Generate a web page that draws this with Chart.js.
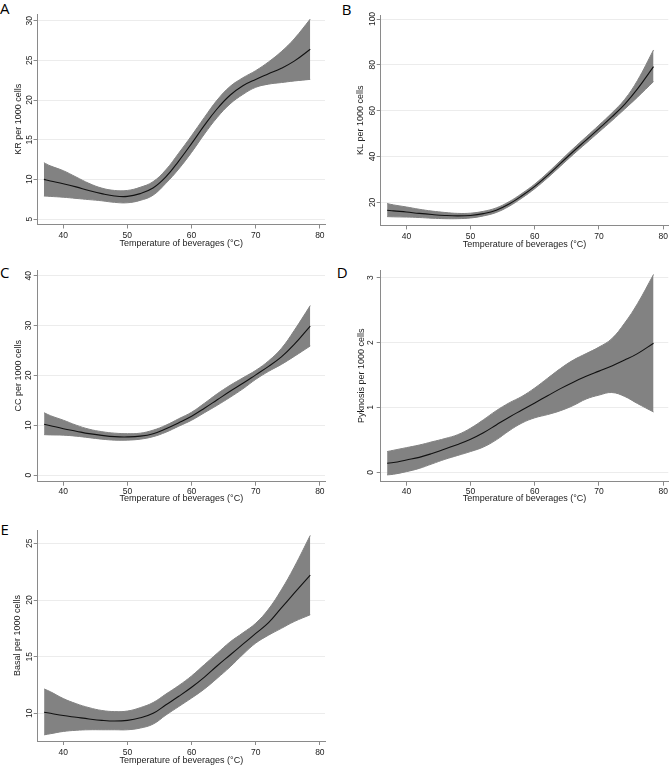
<!DOCTYPE html>
<html><head><meta charset="utf-8">
<script src="https://cdn.jsdelivr.net/npm/chart.js@4.4.1/dist/chart.umd.min.js"></script>
<style>
html,body{margin:0;padding:0;background:#fff}
#page{position:relative;width:670px;height:766px;background:#fff;overflow:hidden}
canvas{position:absolute}
.letter{position:absolute;font-family:'Open Sans','Noto Sans',sans-serif;font-size:15px;line-height:1;color:#000}
</style></head><body><div id="page">
<div class="letter" style="left:0px;top:0.7px">A</div>
<div class="letter" style="left:341.7px;top:2.4px">B</div>
<div class="letter" style="left:0px;top:265.4px">C</div>
<div class="letter" style="left:336.7px;top:265.4px">D</div>
<div class="letter" style="left:0.4px;top:522.4px">E</div>
<canvas id="cA" width="335" height="255" style="left:0px;top:0px"></canvas>
<canvas id="cB" width="335" height="255" style="left:335px;top:0px"></canvas>
<canvas id="cC" width="335" height="255" style="left:0px;top:255px"></canvas>
<canvas id="cD" width="335" height="255" style="left:335px;top:255px"></canvas>
<canvas id="cE" width="335" height="261" style="left:0px;top:505px"></canvas>
</div>
<script>
// ---- data ----
const temperature = [37,38,40,42,44,46,48,50,52,54,56,58,60,62,64,66,68,70,72,74,76,78.5];
const xTicks = [40,50,60,70,80];
const xTitle = 'Temperature of beverages (°C)';

const krMean  = [10.0,9.8,9.45,9.05,8.6,8.2,7.9,7.85,8.2,8.9,10.3,12.3,14.5,16.8,18.9,20.6,21.8,22.6,23.3,24.0,24.9,26.4];
const krUpper = [12.1,11.7,11.1,10.3,9.5,8.9,8.6,8.6,9.0,9.7,11.2,13.3,15.5,17.8,20.0,21.7,22.8,23.7,24.8,26.1,27.7,30.2];
const krLower = [7.9,7.85,7.75,7.6,7.45,7.3,7.1,7.05,7.35,8.0,9.5,11.3,13.4,15.7,17.8,19.5,20.7,21.6,22.0,22.2,22.4,22.6];
const krTicks = [5,10,15,20,25,30];

const klMean  = [16.6,16.3,15.8,15.2,14.7,14.3,14.1,14.3,15.1,16.6,19.3,22.9,27.0,31.8,37.0,42.2,47.2,52.2,57.3,62.8,69.5,79.2];
const klUpper = [19.5,18.9,18.0,17.0,16.2,15.6,15.2,15.3,16.1,17.6,20.3,23.9,28.0,32.9,38.2,43.5,48.6,53.7,59.0,64.9,73.2,86.5];
const klLower = [13.8,13.7,13.6,13.4,13.1,12.9,12.9,13.2,14.1,15.6,18.3,21.9,26.0,30.7,35.8,40.9,45.8,50.7,55.6,60.7,65.9,72.7];
const klTicks = [20,40,60,80,100];

const ccMean  = [10.2,9.9,9.3,8.8,8.3,7.95,7.7,7.65,7.8,8.3,9.3,10.5,11.8,13.4,15.1,16.8,18.4,20.1,21.8,23.7,26.2,29.9];
const ccUpper = [12.5,11.9,11.0,10.0,9.2,8.7,8.4,8.3,8.4,9.0,10.0,11.3,12.6,14.4,16.3,18.0,19.5,21.0,22.9,25.4,29.0,34.0];
const ccLower = [8.1,8.05,8.0,7.8,7.5,7.2,7.0,7.0,7.2,7.7,8.6,9.8,11.0,12.5,14.0,15.6,17.3,19.2,20.8,22.2,23.8,25.9];
const ccTicks = [0,10,20,30,40];

const pyMean  = [0.14,0.15,0.19,0.23,0.29,0.36,0.43,0.51,0.61,0.73,0.85,0.96,1.07,1.18,1.29,1.39,1.48,1.56,1.64,1.73,1.83,1.99];
const pyUpper = [0.32,0.34,0.38,0.42,0.47,0.52,0.58,0.68,0.81,0.95,1.07,1.17,1.30,1.45,1.60,1.73,1.83,1.93,2.06,2.30,2.60,3.05];
const pyLower = [-0.04,-0.03,0.01,0.06,0.13,0.20,0.26,0.32,0.39,0.50,0.64,0.76,0.84,0.89,0.95,1.03,1.13,1.19,1.23,1.17,1.06,0.93];
const pyTicks = [0,1,2,3];

const bsMean  = [10.1,10.0,9.8,9.65,9.5,9.38,9.32,9.38,9.6,10.0,10.75,11.5,12.3,13.2,14.2,15.15,16.1,17.05,18.0,19.3,20.6,22.2];
const bsUpper = [12.15,11.9,11.3,10.85,10.5,10.25,10.15,10.2,10.5,10.95,11.7,12.45,13.3,14.3,15.3,16.3,17.1,17.95,19.2,20.9,22.9,25.7];
const bsLower = [8.1,8.2,8.4,8.5,8.55,8.55,8.55,8.55,8.7,9.05,9.85,10.6,11.35,12.15,13.1,14.1,15.2,16.2,16.9,17.5,18.1,18.7];
const bsTicks = [10,15,20,25];

// ---- styling / layout ----
const FONT = "'Liberation Sans', Arial, sans-serif";
const BAND = '#828282';
const AXIS = '#8a8a8a';
const GRID = '#ececec';
const TICKSIZE = 8.5, TITLESIZE = 9;

const rotatedYTicks = {
  id: 'rotatedYTicks',
  afterDraw(chart, args, opts) {
    const s = chart.scales.y, ctx = chart.ctx;
    ctx.save();
    ctx.font = TICKSIZE + 'px ' + FONT;
    ctx.fillStyle = '#222';
    ctx.textAlign = 'center';
    ctx.textBaseline = 'middle';
    s.ticks.forEach(t => {
      const py = s.getPixelForValue(t.value);
      ctx.save();
      ctx.translate(opts.x, py);
      ctx.rotate(-Math.PI / 2);
      ctx.fillText(String(t.value), 0, 0.5);
      ctx.restore();
    });
    ctx.restore();
  }
};

function pts(arr) { return temperature.map((t, i) => ({x: t, y: arr[i]})); }

function makePanel(id, cfg) {
  const H = cfg.h;
  const tickLH = TICKSIZE * 1.2, titleLH = TITLESIZE * 1.2;
  new Chart(document.getElementById(id), {
    type: 'line',
    data: {
      datasets: [
        {data: pts(cfg.mean), borderColor: '#111', borderWidth: 1.1, pointRadius: 0, fill: false, order: 0, tension: 0.4},
        {data: pts(cfg.upper), borderColor: BAND, backgroundColor: BAND, borderWidth: 1, pointRadius: 0, fill: '+1', order: 1, tension: 0.4},
        {data: pts(cfg.lower), borderColor: BAND, backgroundColor: BAND, borderWidth: 1, pointRadius: 0, fill: false, order: 2, tension: 0.4}
      ]
    },
    options: {
      responsive: false, animation: false, events: [],
      layout: {padding: {left: 0, top: cfg.area.top, right: cfg.w - cfg.area.right, bottom: 0}},
      plugins: {legend: {display: false}, tooltip: {enabled: false}, rotatedYTicks: {x: cfg.yTickX}},
      scales: {
        x: {
          type: 'linear', min: 36, max: 80.8,
          afterBuildTicks: s => { s.ticks = xTicks.map(v => ({value: v})); },
          afterFit: s => { s.height = H - cfg.area.bottom; },
          grid: {display: true, drawOnChartArea: false, drawTicks: true, tickLength: 4, tickColor: AXIS, tickWidth: 1},
          border: {display: true, color: AXIS, width: 1},
          ticks: {autoSkip: false, maxRotation: 0, minRotation: 0, color: '#222', font: {family: FONT, size: TICKSIZE},
                  padding: cfg.xTickOff - 4 - tickLH / 2},
          title: {display: true, text: xTitle, color: '#222', font: {family: FONT, size: TITLESIZE},
                  padding: {top: 0, bottom: H - (cfg.area.bottom + cfg.xTitleOff) - titleLH / 2}}
        },
        y: {
          type: 'linear', min: cfg.yRange[0], max: cfg.yRange[1],
          afterBuildTicks: s => { s.ticks = cfg.yTicks.map(v => ({value: v})); },
          afterFit: s => { s.width = cfg.area.left; },
          grid: {display: true, drawOnChartArea: true, color: GRID, lineWidth: 1, drawTicks: true, tickLength: 4, tickColor: AXIS, tickWidth: 1},
          border: {display: true, color: AXIS, width: 1},
          ticks: {display: false},
          title: {display: true, text: cfg.yTitle, color: '#222', font: {family: FONT, size: TITLESIZE},
                  padding: {top: cfg.yTitleX - titleLH / 2, bottom: 0}}
        }
      }
    },
    plugins: [rotatedYTicks]
  });
}

makePanel('cA', {w: 335, h: 255, area: {left: 37.5, top: 14, right: 325, bottom: 224.5}, yRange: [4.31, 30.84],
  yTicks: krTicks, mean: krMean, upper: krUpper, lower: krLower, yTitle: 'KR per 1000 cells',
  yTickX: 29, yTitleX: 19, xTickOff: 10.8, xTitleOff: 19.3});
makePanel('cB', {w: 335, h: 255, area: {left: 45.7, top: 15, right: 333.3, bottom: 225.4}, yRange: [9.96, 101.75],
  yTicks: klTicks, mean: klMean, upper: klUpper, lower: klLower, yTitle: 'KL per 1000 cells',
  yTickX: 36.7, yTitleX: 25.7, xTickOff: 10.8, xTitleOff: 19.3});
makePanel('cC', {w: 335, h: 255, area: {left: 37.7, top: 15, right: 325, bottom: 226.7}, yRange: [-1.34, 41.14],
  yTicks: ccTicks, mean: ccMean, upper: ccUpper, lower: ccLower, yTitle: 'CC per 1000 cells',
  yTickX: 28.5, yTitleX: 18.5, xTickOff: 9.5, xTitleOff: 17});
makePanel('cD', {w: 335, h: 255, area: {left: 45.7, top: 15, right: 333.3, bottom: 226.7}, yRange: [-0.145, 3.119],
  yTicks: pyTicks, mean: pyMean, upper: pyUpper, lower: pyLower, yTitle: 'Pyknosis per 1000 cells',
  yTickX: 35.5, yTitleX: 26.5, xTickOff: 9.5, xTitleOff: 17});
makePanel('cE', {w: 335, h: 261, area: {left: 37.7, top: 25, right: 325, bottom: 236}, yRange: [7.556, 26.18],
  yTicks: bsTicks, mean: bsMean, upper: bsUpper, lower: bsLower, yTitle: 'Basal per 1000 cells',
  yTickX: 29, yTitleX: 17.5, xTickOff: 11.5, xTitleOff: 20});
</script>
</body></html>
